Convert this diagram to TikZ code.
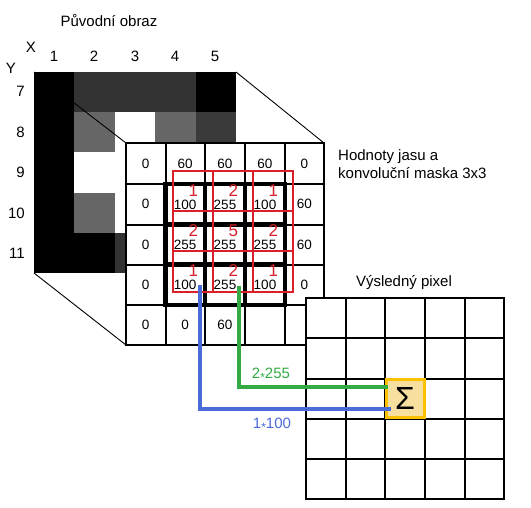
\documentclass[tikz,border=0pt]{standalone}
\usepackage{fontspec}
\setmainfont{Liberation Sans}
\usetikzlibrary{calc}
\definecolor{dgray}{HTML}{333333}
\definecolor{mgray}{HTML}{666666}
\definecolor{rgray}{HTML}{3A3A3A}
\definecolor{maskred}{HTML}{D8202A}
\definecolor{gline}{HTML}{33AA44}
\definecolor{bline}{HTML}{4A6AD8}
\definecolor{sigfill}{HTML}{F7DFA0}
\definecolor{sigedge}{HTML}{FFC000}
\begin{document}
\begin{tikzpicture}[x=1pt,y=-1pt,
  lbl/.style={font=\fontsize{15}{18}\selectfont, inner sep=0pt},
  num/.style={font=\fontsize{13.5}{15}\selectfont, inner sep=0pt},
  rnum/.style={font=\fontsize{17}{18}\selectfont, inner sep=0pt, text=maskred},
  thin line/.style={draw=black, line width=0.9pt},
  gridline/.style={draw=black, line width=2pt, line cap=rect},
  thickline/.style={draw=black, line width=4.5pt, line cap=rect},
  maskline/.style={draw=maskred, line width=2pt, line cap=rect},
  conn/.style={line width=4pt}]
\useasboundingbox (0,0) rectangle (531,507);

% ---------- titles ----------
\node[lbl] (t1) at (109,21) {Původní obraz};
\node[lbl] (tx) at (31,47) {X};
\node[lbl] (ty) at (11,68) {Y};
\foreach \c/\xx in {1/54,2/94,3/135,4/175,5/215}
  \node[lbl] (col\c) at (\xx,56) {\c};
\foreach \r/\yy in {7/91,8/132,9/172,10/213,11/253}
  \node[lbl, anchor=east] (row\r) at (25,\yy) {\r};

% ---------- original image ----------
\fill[white] (34,72) rectangle (236,273);
\foreach \c/\r/\col in {
  1/0/black,1/1/black,1/2/black,1/3/black,1/4/black,
  2/0/dgray,3/0/dgray,4/0/dgray,5/0/black,
  2/1/mgray,3/1/white,4/1/mgray,5/1/rgray,
  2/2/white,3/2/white,
  2/3/mgray,3/3/white,
  2/4/black,3/4/dgray}
  \fill[\col] ({34+(\c-1)*40.4},{72+\r*40.2}) rectangle ({34+\c*40.4},{72+(\r+1)*40.2});
\coordinate (imgTL) at (34,72);
\coordinate (imgTR) at (236,72);
\coordinate (imgBL) at (34,273);
\coordinate (gridTL) at (126,143);
\coordinate (gridTR) at (324,143);
\coordinate (gridBL) at (126,345);
\draw[thin line] (imgTL) -- (gridTL);
\draw[thin line] (imgTR) -- (gridTR);
\draw[thin line] (imgBL) -- (gridBL);

% ---------- brightness table ----------
\fill[white] (gridTL) rectangle (324,345);
\foreach \xx in {126,165.5,205,245,285,324}
  \draw[gridline] (\xx,143) -- (\xx,345);
\foreach \yy in {143,184,224.5,264.5,305,345}
  \draw[gridline] (126,\yy) -- (324,\yy);
\foreach \xx in {165.5,205,245,285}
  \draw[thickline] (\xx,184) -- (\xx,305);
\foreach \yy in {184,224.5,264.5,305}
  \draw[thickline] (165.5,\yy) -- (285,\yy);

% outer values
\foreach \i/\xx/\yy/\v in {
  a/145.7/163.5/0, b/185.2/163.5/60, c/225/163.5/60, d/265/163.5/60, e/304.5/163.5/0,
  f/145.7/204.2/0, g/145.7/244.5/0, h/145.7/284.7/0, i/145.7/325/0,
  j/304.5/204.2/60, k/304.5/244.5/60, l/304.5/284.7/0,
  m/185.2/325/0, n/225/325/60}
  \node[num] (o\i) at (\xx,\yy) {\v};
% inner values
\foreach \i/\xx/\yy/\v in {
  11/185.2/204.5/100, 12/225/204.5/255, 13/265/204.5/100,
  21/185.2/244.8/255, 22/225/244.8/255, 23/265/244.8/255,
  31/185.2/285/100, 32/225/285/255, 33/265/285/100}
  \node[num] (v\i) at (\xx,\yy) {\v};

% ---------- convolution mask ----------
\foreach \xx in {173.3,213.3,253.3,293.3}
  \draw[maskline] (\xx,171) -- (\xx,291.7);
\foreach \yy in {171,211.3,251,291.7}
  \draw[maskline] (173.3,\yy) -- (293.3,\yy);
\foreach \i/\xx/\yy/\v in {
  11/193.3/190.5/1, 12/233.3/190.5/2, 13/273.3/190.5/1,
  21/193.3/230.5/2, 22/233.3/230.5/5, 23/273.3/230.5/2,
  31/193.3/270.5/1, 32/233.3/270.5/2, 33/273.3/270.5/1}
  \node[rnum] (k\i) at (\xx,\yy) {\v};

\node[lbl, anchor=west, align=left] (t2) at (338,164.5) {Hodnoty jasu a\\konvoluční maska 3x3};

% ---------- result ----------
\node[lbl] (t3) at (404,283) {Výsledný pixel};
\fill[white] (306,298) rectangle (504,499);
\foreach \xx in {306,345.5,385,425,465,504}
  \draw[gridline] (\xx,298) -- (\xx,499);
\foreach \yy in {298,338,378.5,419,459,499}
  \draw[gridline] (306,\yy) -- (504,\yy);
\node[draw=sigedge, fill=sigfill, line width=3pt, minimum size=38pt, inner sep=0pt,
      font=\fontsize{32}{32}\selectfont] (sig) at (405,398) {Σ};

% ---------- connectors ----------
\coordinate (gs) at (238.5,286);
\coordinate (bs) at (199.5,285);
\draw[conn, draw=gline] (gs) |- ($(sig.west)+(3,-11)$);
\draw[conn, draw=bline] (bs) |- ($(sig.west)+(6,11)$);
\node[lbl, text=gline] (lg) at (271,375) {2\raisebox{-2.5pt}{\fontsize{12}{12}\selectfont *}255};
\node[lbl, text=bline] (lb) at (272,425) {1\raisebox{-2.5pt}{\fontsize{12}{12}\selectfont *}100};
\end{tikzpicture}
\end{document}
